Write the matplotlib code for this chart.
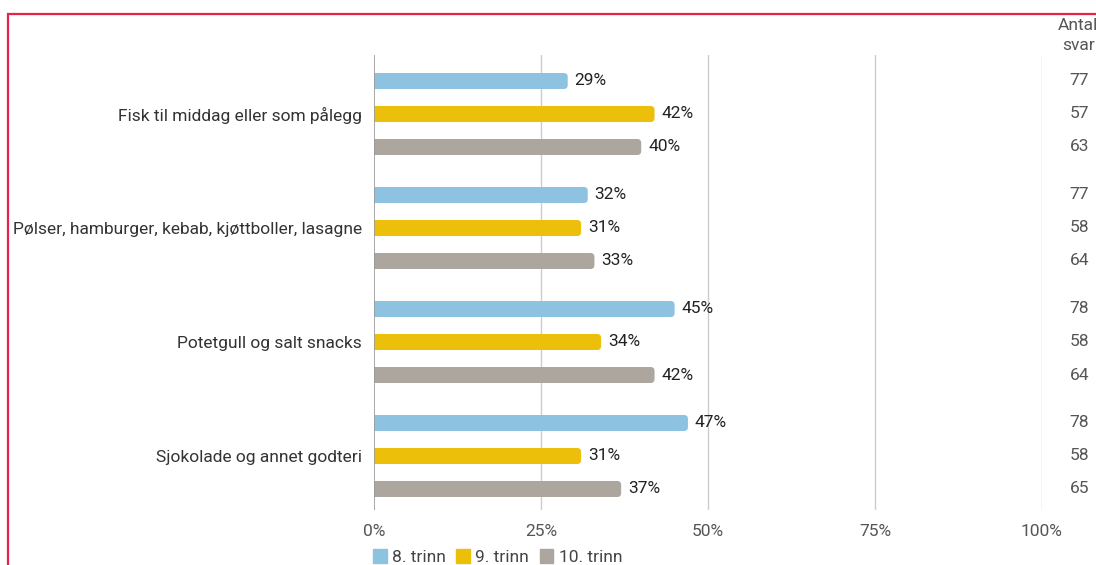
import numpy as np
import matplotlib.pyplot as plt
from matplotlib.patches import Rectangle, Patch, FancyBboxPatch

# ── data ─────────────────────────────────────────────────────────────
CATEGORIES = [
    "Fisk til middag eller som pålegg",
    "Pølser, hamburger, kebab, kjøttboller, lasagne",
    "Potetgull og salt snacks",
    "Sjokolade og annet godteri",
]
SERIES = ["8. trinn", "9. trinn", "10. trinn"]
VALUES = {
    "8. trinn":  [0.29, 0.32, 0.45, 0.47],
    "9. trinn":  [0.42, 0.31, 0.34, 0.31],
    "10. trinn": [0.40, 0.33, 0.42, 0.37],
}
ANTALL = {
    "8. trinn":  [77, 77, 78, 78],
    "9. trinn":  [57, 58, 58, 58],
    "10. trinn": [63, 64, 64, 65],
}
X_TICKS = [0, 0.25, 0.5, 0.75, 1.0]
X_TICKLABELS = ["0%", "25%", "50%", "75%", "100%"]

# ── style ────────────────────────────────────────────────────────────
COLORS = {"8. trinn": "#8DC3E0", "9. trinn": "#EBBF0A", "10. trinn": "#ADA69F"}
BORDER = "#E8234A"
plt.rcParams["font.family"] = ["Roboto", "DejaVu Sans"]
FS = 12.5

fig = plt.figure(figsize=(10.96, 5.65), dpi=100)
ax = fig.add_axes([374 / 1096, 1 - 510 / 565, 668 / 1096, 455 / 565])

GROUP_STEP = 114 / 33
BAR_H = 16 / 33
R = 4 / 668              # corner radius (x units), ~4 px
ASPECT = 668 / 33        # data-y per data-x, in pixels

for k, s in enumerate(SERIES):
    ys = np.arange(len(CATEGORIES)) * GROUP_STEP + k
    bars = ax.barh(ys, VALUES[s], height=BAR_H, color=COLORS[s], zorder=3, label=s)
    # round the right end of each bar
    for p in bars.patches:
        x0, y0, w, h = p.get_x(), p.get_y(), p.get_width(), p.get_height()
        p.set_width(w - R)
        ax.add_patch(FancyBboxPatch((x0 + w - 3 * R, y0), 3 * R, h,
                                    boxstyle=f"round,pad=0,rounding_size={R}",
                                    mutation_aspect=ASPECT, fc=COLORS[s], ec="none",
                                    zorder=3))
    for y, v, n in zip(ys, VALUES[s], ANTALL[s]):
        ax.annotate(f"{v:.0%}", (v, y), xytext=(5, 0), textcoords="offset points",
                    ha="left", va="center", fontsize=FS, color="#222222")
        ax.annotate(f"{n}", (1.0, y), xytext=(27, 0), textcoords="offset points",
                    ha="center", va="center", fontsize=FS, color="#555555",
                    annotation_clip=False)

centers = np.arange(len(CATEGORIES)) * GROUP_STEP + 1
ax.set_yticks(centers)
ax.set_yticklabels(CATEGORIES, fontsize=FS, color="#333333")
ax.tick_params(axis="y", length=0, pad=8.5)

ax.set_xlim(0, 1.0)
ax.set_ylim(429 / 33, -26 / 33)
ax.set_xticks(X_TICKS)
ax.set_xticklabels(X_TICKLABELS, fontsize=FS, color="#555555")
ax.tick_params(axis="x", length=0, pad=10)

for sp in ax.spines.values():
    sp.set_visible(False)
for t in X_TICKS[1:]:
    ax.axvline(t, color="#cccccc", lw=1, zorder=1)
ax.axvline(0, color="#999999", lw=1.2, zorder=4)

# Antall svar header (cut off at the right edge, as in the source)
fig.text(1058 / 1096, 1 - 26 / 565, "Antall", ha="left", va="center",
         fontsize=FS, color="#555555")
fig.text(1079 / 1096, 1 - 46 / 565, "svar", ha="center", va="center",
         fontsize=FS, color="#555555")

# legend
handles = [Patch(color=COLORS[s], label=s) for s in SERIES]
fig.legend(handles=handles, loc="center left", bbox_to_anchor=(366 / 1096, 1 - 557 / 565),
           ncol=3, frameon=False, fontsize=FS, handlelength=0.8, handleheight=0.9,
           handletextpad=0.3, columnspacing=0.6, labelcolor="#444444",
           borderaxespad=0)

# red frame around the panel
fig.patches.append(Rectangle((8 / 1096, -0.1), 1.2, 1 - 14 / 565 + 0.1,
                             transform=fig.transFigure, fill=False,
                             edgecolor=BORDER, lw=1.6, zorder=10))

fig.savefig("out.png", dpi=100)
